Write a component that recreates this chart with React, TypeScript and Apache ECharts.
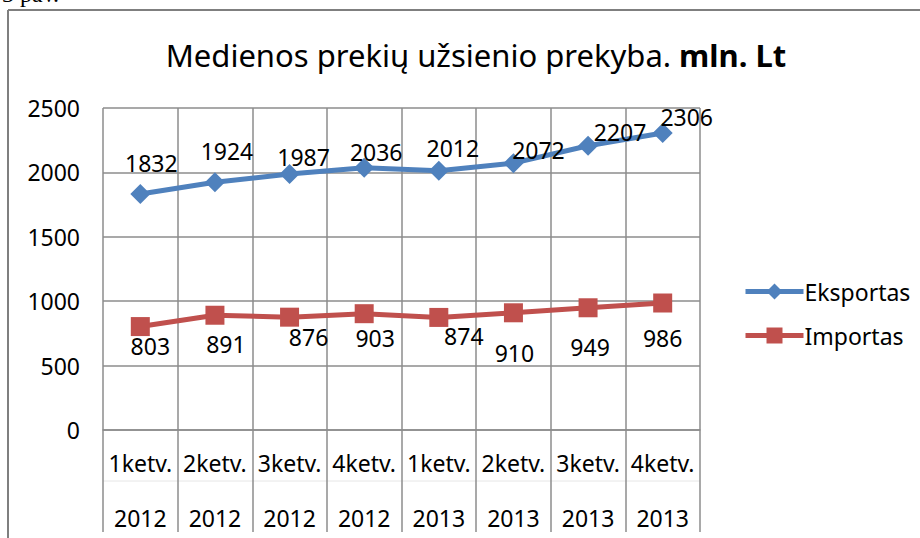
import React, { useEffect, useRef } from "react";
import * as echarts from "echarts";

const quarters = ["1ketv.", "2ketv.", "3ketv.", "4ketv.", "1ketv.", "2ketv.", "3ketv.", "4ketv."];
const years = ["2012", "2012", "2012", "2012", "2013", "2013", "2013", "2013"];
const eksportas = [1832, 1924, 1987, 2036, 2012, 2072, 2207, 2306];
const importas = [803, 891, 876, 903, 874, 910, 949, 986];
const yTicks = { min: 0, max: 2500, interval: 500 };

// label nudges relative to each marker centre (layout only)
const expOffsets: [number, number][] = [[11, -31], [12, -31], [14, -17], [12, -16], [14, -23], [25, -13], [32, -14], [24, -16]];
const impOffsets: [number, number][] = [[10, 19], [11, 29], [19, 20], [11, 24], [25, 19], [1, 40], [2, 39], [0, 35]];

const FONT = "Noto Sans";
const GRID = "#8c8c8c";
const FS = 23;

export default function App() {
  const ref = useRef<HTMLDivElement>(null);
  useEffect(() => {
    document.body.style.margin = "0";
    const chart = echarts.init(ref.current!, undefined, { renderer: "svg" });
    const cats = quarters.map((q, i) => q + "|" + years[i]);
    chart.setOption({
      animation: false,
      backgroundColor: "#ffffff",
      textStyle: { fontFamily: FONT },
      title: {
        text: "Medienos prekių užsienio prekyba. {b|mln. Lt}",
        left: 471,
        top: 34,
        textAlign: "center",
        textStyle: {
          fontFamily: FONT,
          fontSize: 31,
          fontWeight: "normal",
          color: "#000",
          rich: { b: { fontFamily: FONT, fontSize: 31, fontWeight: "bold", color: "#000" } },
        },
      },
      legend: {
        orient: "vertical",
        left: 738,
        top: 275,
        itemWidth: 58,
        itemHeight: 20,
        itemGap: 21,
        lineStyle: { width: 5 },
        textStyle: { fontFamily: FONT, fontSize: FS, color: "#000", padding: [0, 0, 0, -4] },
        data: ["Eksportas", "Importas"],
      },
      grid: { left: 103, right: 220, top: 108, bottom: 108, containLabel: false },
      xAxis: {
        type: "category",
        data: cats,
        boundaryGap: true,
        axisLine: { show: true, lineStyle: { color: GRID, width: 1.5 } },
        axisTick: { show: true, interval: 0, length: 102, lineStyle: { color: GRID, width: 1.5 } },
        splitLine: { show: true, interval: 0, lineStyle: { color: GRID, width: 1.5 } },
        axisLabel: {
          interval: 0,
          margin: 5,
          formatter: (v: string) => {
            const [q, y] = v.split("|");
            return "{q|" + q + "}\n{y|" + y + "}";
          },
          rich: {
            q: { fontFamily: FONT, fontSize: FS, color: "#000", lineHeight: 55 },
            y: { fontFamily: FONT, fontSize: FS, color: "#000", lineHeight: 55 },
          },
        },
      },
      yAxis: {
        type: "value",
        min: yTicks.min,
        max: yTicks.max,
        interval: yTicks.interval,
        axisLine: { show: false },
        axisTick: { show: false },
        splitLine: { show: true, lineStyle: { color: GRID, width: 1.5 } },
        axisLabel: { fontFamily: FONT, fontSize: FS, color: "#000", margin: 23, formatter: (v: number) => String(v) },
      },
      graphic: [
        { type: "line", shape: { x1: 8, y1: 10, x2: 920, y2: 10 }, style: { stroke: "#7f7f7f", lineWidth: 2 } },
        { type: "line", shape: { x1: 8, y1: 10, x2: 8, y2: 538 }, style: { stroke: "#7f7f7f", lineWidth: 2 } },
        { type: "line", shape: { x1: 103, y1: 481, x2: 700, y2: 481 }, style: { stroke: "#e6e6e6", lineWidth: 1 } },
        {
          type: "text",
          left: 2,
          top: -18,
          style: { text: "3 pav.", font: "24px 'Liberation Serif'", fill: "#000" },
        },
      ],
      series: [
        {
          name: "Eksportas",
          type: "line",
          data: eksportas.map((v, i) => ({ value: v, label: { offset: expOffsets[i] } })),
          color: "#4f81bd",
          lineStyle: { width: 5, color: "#4f81bd" },
          symbol: "diamond",
          symbolSize: 20,
          itemStyle: { color: "#4f81bd" },
          label: { show: true, position: "inside", fontFamily: FONT, fontSize: FS, color: "#000" },
        },
        {
          name: "Importas",
          type: "line",
          data: importas.map((v, i) => ({ value: v, label: { offset: impOffsets[i] } })),
          color: "#c0504d",
          lineStyle: { width: 5, color: "#c0504d" },
          symbol: "rect",
          symbolSize: 19,
          itemStyle: { color: "#c0504d" },
          label: { show: true, position: "inside", fontFamily: FONT, fontSize: FS, color: "#000" },
        },
      ],
    });
    return () => chart.dispose();
  }, []);
  return <div ref={ref} style={{ position: "absolute", left: 0, top: 0, width: 920, height: 538 }} />;
}
